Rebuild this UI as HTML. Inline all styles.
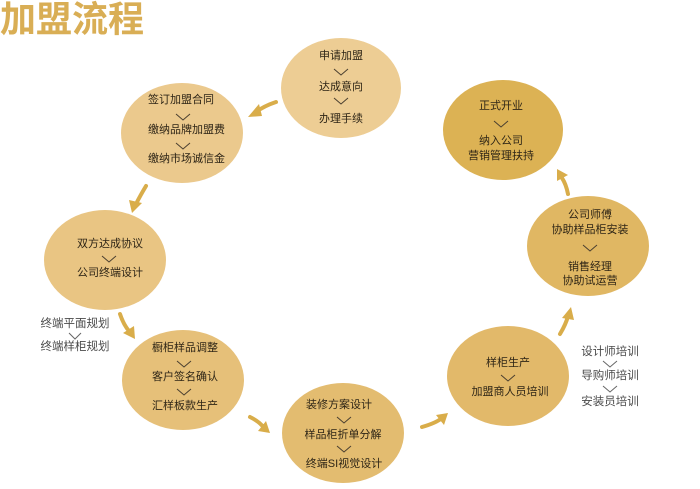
<!DOCTYPE html>
<html><head><meta charset="utf-8"><style>
html,body{margin:0;padding:0;background:#fff;width:700px;height:489px;overflow:hidden}
svg{display:block}
text{font-family:"Liberation Sans","Noto Sans CJK SC",sans-serif;font-size:11px;fill:#2e2516;dominant-baseline:central;text-anchor:middle}
.t{font-size:36px;font-weight:bold;fill:#d9ae55;text-anchor:start}
.s{fill:#4a4a4a;font-size:11.5px}
polyline{fill:none;stroke:#4a3f30;stroke-width:1}
.a{fill:none;stroke:#d9ad4a;stroke-width:4;stroke-linecap:round}
.h{fill:#d9ad4a}
</style></head><body>
<svg width="700" height="489" viewBox="0 0 700 489">
<text class="t" x="0" y="19">加盟流程</text>

<ellipse cx="341" cy="88" rx="60" ry="50" fill="#edcd94"/>
<ellipse cx="182" cy="133" rx="61" ry="50" fill="#ebc98d"/>
<ellipse cx="105" cy="260" rx="61" ry="50" fill="#e9c583"/>
<ellipse cx="183" cy="380" rx="61" ry="50" fill="#e6c079"/>
<ellipse cx="343" cy="433" rx="61" ry="50" fill="#e3bc70"/>
<ellipse cx="508" cy="376" rx="61" ry="50" fill="#e2b96a"/>
<ellipse cx="588" cy="246" rx="61" ry="50" fill="#e0b763"/>
<ellipse cx="503" cy="130" rx="60" ry="50" fill="#dcb254"/>

<path class="a" d="M276 102 Q264 106 256 112"/><polygon class="h" points="248,117 259,104 262,116"/>
<path class="a" d="M146 186 Q140 196 136 204"/><polygon class="h" points="132,213 129,200 142,203"/>
<path class="a" d="M120 314 Q124 326 130 332"/><polygon class="h" points="135,339 123,333 134,326"/>
<path class="a" d="M250 417 Q260 422 264 428"/><polygon class="h" points="270,433 258,431 266,421"/>
<path class="a" d="M422 427 Q436 423 442 418"/><polygon class="h" points="448,413 444,425 436,415"/>
<path class="a" d="M560 334 Q566 324 568 316"/><polygon class="h" points="571,307 574,320 562,318"/>
<path class="a" d="M568 194 Q566 184 562 178"/><polygon class="h" points="557,169 568,175 557,181"/>

<text x="341" y="56">申请加盟</text>
<polyline points="334,69 341,75 348,69"/>
<text x="341" y="87">达成意向</text>
<polyline points="334,98 341,104 348,98"/>
<text x="341" y="119">办理手续</text>

<text x="148" y="100" style="text-anchor:start">签订加盟合同</text>
<polyline points="176,114 183,120 190,114"/>
<text x="148" y="130" style="text-anchor:start">缴纳品牌加盟费</text>
<polyline points="176,143 183,149 190,143"/>
<text x="148" y="159" style="text-anchor:start">缴纳市场诚信金</text>

<text x="110" y="244">双方达成协议</text>
<polyline points="102,256 109,262 116,256"/>
<text x="110" y="273">公司终端设计</text>

<text x="185" y="348">橱柜样品调整</text>
<polyline points="177,361 184,367 191,361"/>
<text x="185" y="377">客户签名确认</text>
<polyline points="177,389 184,395 191,389"/>
<text x="185" y="406">汇样板款生产</text>

<text x="339" y="405">装修方案设计</text>
<polyline points="337,417 344,423 351,417"/>
<text x="343" y="435">样品柜折单分解</text>
<polyline points="337,446 344,452 351,446"/>
<text x="344" y="464">终端SI视觉设计</text>

<text x="508" y="363">样柜生产</text>
<polyline points="501,375 508,381 515,375"/>
<text x="510" y="392">加盟商人员培训</text>

<text x="590" y="215">公司师傅</text>
<text x="590" y="230">协助样品柜安装</text>
<polyline points="583,245 590,251 597,245"/>
<text x="590" y="267">销售经理</text>
<text x="590" y="281">协助试运营</text>

<text x="501" y="106">正式开业</text>
<polyline points="494,121 501,127 508,121"/>
<text x="501" y="141">纳入公司</text>
<text x="501" y="156">营销管理扶持</text>

<text class="s" x="75" y="324">终端平面规划</text>
<polyline points="69,333 75,339 81,333" style="stroke:#666"/>
<text class="s" x="75" y="347">终端样柜规划</text>

<text class="s" x="610" y="352">设计师培训</text>
<polyline points="603,361 610,367 617,361" style="stroke:#666"/>
<text class="s" x="610" y="376">导购师培训</text>
<polyline points="603,386 610,392 617,386" style="stroke:#666"/>
<text class="s" x="610" y="402">安装员培训</text>
</svg>
</body></html>
